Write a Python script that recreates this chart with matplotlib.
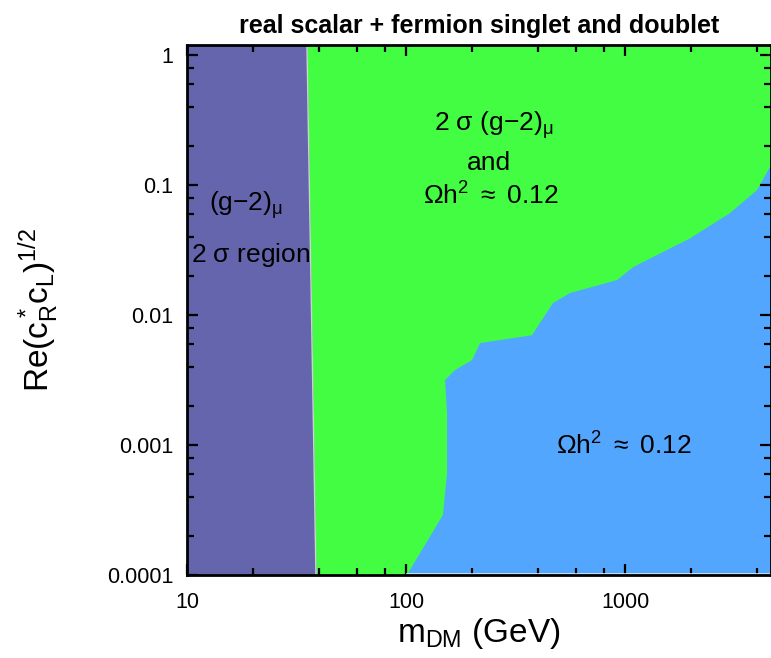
import matplotlib
matplotlib.use("Agg")
import matplotlib.pyplot as plt
from matplotlib.ticker import LogLocator, NullFormatter, FixedLocator, FixedFormatter

plt.rcParams['font.family'] = ['Liberation Sans', 'DejaVu Sans']
plt.rcParams['mathtext.fontset'] = 'custom'
plt.rcParams['mathtext.rm'] = 'Liberation Sans'
plt.rcParams['mathtext.it'] = 'Liberation Sans'
plt.rcParams['mathtext.sf'] = 'Liberation Sans'

# ---- data ----
x_range = [10, 4640]
y_range = [1e-4, 1.2]

# (g-2)_mu 2 sigma region boundary (left of this is purple)
g2_edge_y = [1e-4, 1.2]
g2_edge_x = [38.8, 35.3]

# Relic density boundary (below this is blue)
relic_x = [101, 147.5, 154, 154, 150.7, 167.4, 200, 218, 376, 469, 561, 919, 1088, 1982, 3015, 4006, 4640]
relic_y = [1e-4, 2.9e-4, 6.1e-4, 1.76e-3, 3.16e-3, 3.78e-3, 4.5e-3, 6.1e-3, 7.0e-3, 0.0124, 0.0148, 0.0186, 0.0234, 0.039, 0.061, 0.0917, 0.1426]

x_major = [10, 100, 1000]
x_major_labels = ['10', '100', '1000']
y_major = [1e-4, 1e-3, 1e-2, 0.1, 1]
y_major_labels = ['0.0001', '0.001', '0.01', '0.1', '1']

purple = '#6565AD'
green = '#43FD43'
blue = '#52A6FE'

fig = plt.figure(figsize=(7.71, 6.58), dpi=100)
ax = fig.add_axes([187/771, 1 - 575/658, (771 - 187)/771, (575 - 45)/658])
ax.set_xscale('log')
ax.set_yscale('log')
ax.set_xlim(*x_range)
ax.set_ylim(*y_range)
ax.set_facecolor(green)

ax.fill_betweenx(g2_edge_y, [x_range[0]] * 2, g2_edge_x, color=purple, lw=0, zorder=1)
ax.plot(g2_edge_x, g2_edge_y, color='#c8d8c8', lw=1.0, zorder=2)

poly_x = relic_x + [x_range[1], relic_x[0]]
poly_y = relic_y + [y_range[0], y_range[0]]
ax.fill(poly_x, poly_y, color=blue, lw=0, zorder=1)
ax.plot([relic_x[0], x_range[1]], [y_range[0] * 1.01, y_range[0] * 1.01], color='#dde8f0', lw=1.2, zorder=2)

ax.xaxis.set_major_locator(FixedLocator(x_major))
ax.xaxis.set_major_formatter(FixedFormatter(x_major_labels))
ax.xaxis.set_minor_locator(LogLocator(base=10, subs=[2, 4, 6, 8]))
ax.xaxis.set_minor_formatter(NullFormatter())
ax.yaxis.set_major_locator(FixedLocator(y_major))
ax.yaxis.set_major_formatter(FixedFormatter(y_major_labels))
ax.yaxis.set_minor_locator(LogLocator(base=10, subs=[2, 4, 6, 8]))
ax.yaxis.set_minor_formatter(NullFormatter())

ax.tick_params(which='both', direction='in', top=True, right=True, width=1.6, colors='black', zorder=5)
ax.tick_params(which='major', length=8, labelsize=15.5)
ax.tick_params(axis='x', which='major', pad=12)
ax.tick_params(axis='y', which='major', pad=10)
ax.tick_params(which='minor', length=5)
for s in ax.spines.values():
    s.set_linewidth(2.0)
    s.set_zorder(5)

ax.set_xlabel(r'm$_{\mathrm{DM}}$ (GeV)', fontsize=24)
ax.xaxis.set_label_coords(0.5, -0.078)
ax.set_ylabel(r'Re(c$^*_{\mathrm{R}}$c$_{\mathrm{L}}$)$^{1/2}$', fontsize=24)
ax.yaxis.set_label_coords(-0.215, 0.5)
ax.set_title('real scalar + fermion singlet and doublet', fontsize=18, fontweight='bold', pad=9)

tk = dict(transform=ax.transAxes, ha='center', va='center', fontsize=19, zorder=6)
def axpos(px, py):
    return ((px - 187) / (771 - 187), (575 - py) / (575 - 45))

ax.text(*axpos(246, 205), r'(g$-$2)$_{\mu}$', **tk)
ax.text(*axpos(251, 255), r'2 $\sigma$ region', **tk)
ax.text(*axpos(494, 125), r'2 $\sigma$ (g$-$2)$_{\mu}$', **tk)
ax.text(*axpos(489, 163), 'and', **tk)
ax.text(*axpos(491, 196), r'$\Omega$h$^2$ $\approx$ 0.12', **tk)
ax.text(*axpos(624, 446), r'$\Omega$h$^2$ $\approx$ 0.12', **tk)

fig.savefig('out.png', dpi=100)
